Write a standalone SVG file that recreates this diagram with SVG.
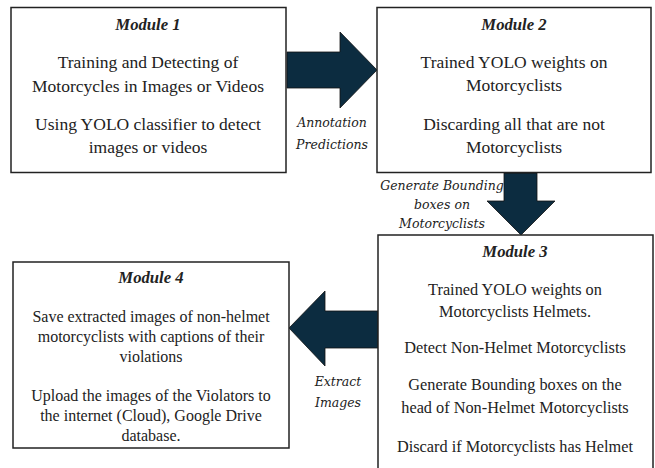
<svg xmlns="http://www.w3.org/2000/svg" width="655" height="468" viewBox="0 0 655 468">
<style>
.box{fill:#fff;stroke:#222;stroke-width:1.5}
.arr{fill:#0c2c40;stroke:#111;stroke-width:0.8}
text{font-family:"Liberation Serif","Times New Roman",serif;fill:#222;text-anchor:middle}
.t{font-weight:bold;font-style:italic;font-size:16.7px}
.b{font-size:17.5px}
.s{font-size:16.3px}
.s4{font-size:16px}
.l{font-family:"DejaVu Serif",serif;font-style:italic;font-size:12.5px}
</style>
<rect width="655" height="468" fill="#fff"/>
<g id="connectors">
<polygon class="arr" points="287,52 340,52 340,32 377,70 340,108 340,88 287,88"/>
<polygon class="arr" points="504,173 537,173 537,201 555,201 521,235 487,201 504,201"/>
<polygon class="arr" points="378,311 325,311 325,291 289,328 325,366 325,348 378,348"/>
<g id="label-annotation">
<text class="l" x="332" y="127">Annotation</text>
<text class="l" x="332" y="149">Predictions</text>
</g>
<g id="label-generate">
<text class="l" x="442" y="190">Generate Bounding</text>
<text class="l" x="442" y="209">boxes on</text>
<text class="l" x="442" y="228">Motorcyclists</text>
</g>
<g id="label-extract">
<text class="l" x="338" y="386">Extract</text>
<text class="l" x="338" y="407">Images</text>
</g>
</g>
<g id="module1">
<rect class="box" x="11" y="7.5" width="275" height="165"/>
<text class="t" x="148" y="30">Module 1</text>
<text class="b" x="148" y="68">Training and Detecting of</text>
<text class="b" x="148" y="92">Motorcycles in Images or Videos</text>
<text class="b" x="148" y="130">Using YOLO classifier to detect</text>
<text class="b" x="148" y="153">images or videos</text>
</g>
<g id="module2">
<rect class="box" x="377" y="7.5" width="274" height="165"/>
<text class="t" x="514" y="30">Module 2</text>
<text class="b" x="514" y="68">Trained YOLO weights on</text>
<text class="b" x="514" y="91">Motorcyclists</text>
<text class="b" x="514" y="130">Discarding all that are not</text>
<text class="b" x="514" y="153">Motorcyclists</text>
</g>
<g id="module3">
<rect class="box" x="378" y="235" width="275" height="240"/>
<text class="t" x="515" y="257">Module 3</text>
<text class="s" x="515" y="295">Trained YOLO weights on</text>
<text class="s" x="515" y="317">Motorcyclists Helmets.</text>
<text class="s" x="515" y="353">Detect Non-Helmet Motorcyclists</text>
<text class="s" x="515" y="390">Generate Bounding boxes on the</text>
<text class="s" x="515" y="413">head of Non-Helmet Motorcyclists</text>
<text class="s" x="515" y="452">Discard if Motorcyclists has Helmet</text>
</g>
<g id="module4">
<rect class="box" x="13" y="262" width="276" height="186"/>
<text class="t" x="151" y="283">Module 4</text>
<text class="s4" x="151" y="322">Save extracted images of non-helmet</text>
<text class="s4" x="151" y="342">motorcyclists with captions of their</text>
<text class="s4" x="151" y="362">violations</text>
<text class="s4" x="151" y="401">Upload the images of the Violators to</text>
<text class="s4" x="151" y="421">the internet (Cloud), Google Drive</text>
<text class="s4" x="151" y="441">database.</text>
</g>
</svg>
